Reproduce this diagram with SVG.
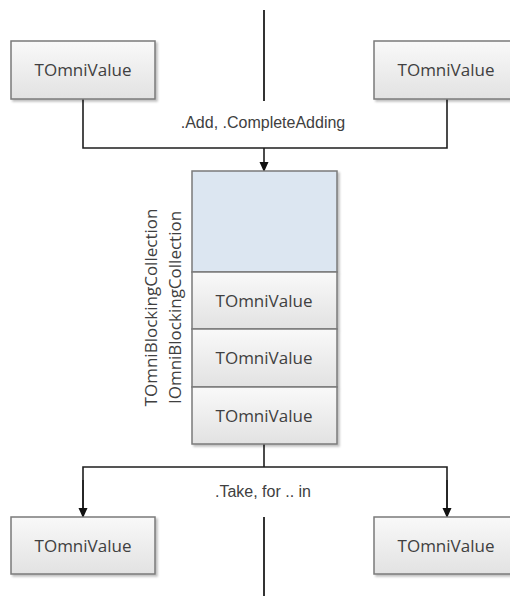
<svg xmlns="http://www.w3.org/2000/svg" width="510" height="596" viewBox="0 0 510 596">
  <style>
    .box { fill: url(#boxFill); stroke: #7a7a7a; stroke-width: 1.5; }
    .blue { fill: #dce6f1; stroke: #7a7a7a; stroke-width: 1.5; }
    .lbl { font-family: "Open Sans", "Noto Sans", sans-serif; font-size: 17px; fill: #404040; text-anchor: middle; }
    .edge { font-family: "Liberation Sans", Arial, sans-serif; font-size: 16px; fill: #404040; text-anchor: middle; }
    .wire { fill: none; stroke: #1e1e1e; stroke-width: 1.6; }
    .rule { fill: none; stroke: #333; stroke-width: 2; }
  </style>
  <defs>
    <linearGradient id="boxFill" x1="0" y1="0" x2="0" y2="1">
      <stop offset="0" stop-color="#f9f9f9"/>
      <stop offset="1" stop-color="#e2e2e2"/>
    </linearGradient>
    <filter id="shadow" x="-10%" y="-10%" width="130%" height="130%">
      <feDropShadow dx="2" dy="2" stdDeviation="1" flood-color="#000" flood-opacity="0.25"/>
    </filter>
    <marker id="arrow" markerWidth="10" markerHeight="10" refX="9" refY="5" orient="auto" markerUnits="userSpaceOnUse">
      <path d="M0,0.5 L10,5 L0,9.5 Z" fill="#111"/>
    </marker>
  </defs>

  <!-- divider rules -->
  <g id="rules">
    <line class="rule" x1="264" y1="10" x2="264" y2="101"/>
    <line class="rule" x1="264" y1="517" x2="264" y2="596"/>
  </g>

  <!-- connectors -->
  <g id="connectors">
    <polyline class="wire" points="83,99 83,148 447,148 447,99"/>
    <line class="wire" x1="264" y1="148" x2="264" y2="171" marker-end="url(#arrow)"/>
    <line class="wire" x1="264" y1="444" x2="264" y2="467"/>
    <polyline class="wire" points="83,516 83,467 447,467 447,516"/>
    <line class="wire" x1="83" y1="480" x2="83" y2="517" marker-end="url(#arrow)"/>
    <line class="wire" x1="447" y1="480" x2="447" y2="517" marker-end="url(#arrow)"/>
    <text class="edge" x="263" y="128">.Add, .CompleteAdding</text>
    <text class="edge" x="263" y="497">.Take, for .. in</text>
  </g>

  <!-- producers -->
  <g id="producer-left">
    <rect class="box" x="11" y="41" width="144" height="58" filter="url(#shadow)"/>
    <text class="lbl" x="83" y="76">TOmniValue</text>
  </g>
  <g id="producer-right">
    <rect class="box" x="374" y="41" width="144" height="58" filter="url(#shadow)"/>
    <text class="lbl" x="446" y="76">TOmniValue</text>
  </g>

  <!-- blocking collection stack -->
  <g id="collection" filter="url(#shadow)">
    <rect class="blue" x="192" y="171" width="145" height="101"/>
    <rect class="box" x="192" y="272" width="145" height="57"/>
    <rect class="box" x="192" y="329" width="145" height="58"/>
    <rect class="box" x="192" y="387" width="145" height="57"/>
  </g>
  <g id="collection-items">
    <text class="lbl" x="264" y="307">TOmniValue</text>
    <text class="lbl" x="264" y="364">TOmniValue</text>
    <text class="lbl" x="264" y="422">TOmniValue</text>
  </g>
  <g id="collection-title">
    <text class="lbl" transform="translate(157,307.5) rotate(-90)">TOmniBlockingCollection</text>
    <text class="lbl" transform="translate(181,307.5) rotate(-90)">IOmniBlockingCollection</text>
  </g>

  <!-- consumers -->
  <g id="consumer-left">
    <rect class="box" x="11" y="517" width="144" height="57" filter="url(#shadow)"/>
    <text class="lbl" x="83" y="552">TOmniValue</text>
  </g>
  <g id="consumer-right">
    <rect class="box" x="374" y="517" width="144" height="57" filter="url(#shadow)"/>
    <text class="lbl" x="446" y="552">TOmniValue</text>
  </g>
</svg>
